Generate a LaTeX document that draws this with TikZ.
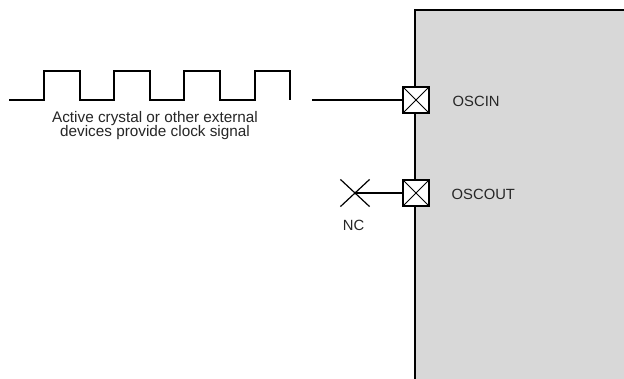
\documentclass[tikz,border=0pt]{standalone}
\usepackage{fontspec}
\setmainfont{Liberation Sans}
\usetikzlibrary{shapes.misc}
\definecolor{chipgray}{HTML}{D8D8D8}
\tikzset{
  wire/.style={line width=1.5bp, black},
  pinbox/.style={draw, line width=1.3bp, fill=white, minimum size=26bp, inner sep=0pt,
    path picture={\draw[line width=1bp] (path picture bounding box.south west) -- (path picture bounding box.north east)
      (path picture bounding box.north west) -- (path picture bounding box.south east);}},
  lbl/.style={font=\fontsize{14.8bp}{14bp}\selectfont, inner sep=0pt, text=black!85},
  clklbl/.style={lbl, font=\fontsize{15.3bp}{14.6bp}\selectfont, align=center},
  ncmark/.style={cross out, draw, line width=1.2bp, minimum width=28bp, minimum height=26bp, inner sep=0pt}
}
\begin{document}
\begin{tikzpicture}[x=1bp,y=-1bp]
\clip (0,0) rectangle (624,378);
\fill[white] (0,0) rectangle (624,378);
% chip body
\draw[line width=2bp, fill=chipgray] (415,10) rectangle (640,400);
% clock waveform
\draw[wire] (9,100) -- (44,100) -- (44,71) -- (80,71) -- (80,100) -- (114,100) -- (114,71) -- (150,71) -- (150,100)
  -- (184,100) -- (184,71) -- (220,71) -- (220,100) -- (255,100) -- (255,71) -- (290,71) -- (290,100);
\node[clklbl] (clk) at (155,125.5) {Active crystal or other external\\devices provide clock signal};
% pins
\node[pinbox] (oscin) at (416,100) {};
\node[pinbox] (oscout) at (416,193) {};
\node[lbl, anchor=west] (oscinlbl) at (452.5,101) {OSCIN};
\node[lbl, anchor=west] (oscoutlbl) at (451.5,194.5) {OSCOUT};
% connections
\coordinate (src) at (312,100);
\draw[wire] (src) -- (oscin.west);
\node[ncmark] (nc) at (355,193) {};
\draw[wire] (nc.center) -- (oscout.west);
\node[lbl] (nclbl) at (353.5,225) {NC};
\end{tikzpicture}
\end{document}
